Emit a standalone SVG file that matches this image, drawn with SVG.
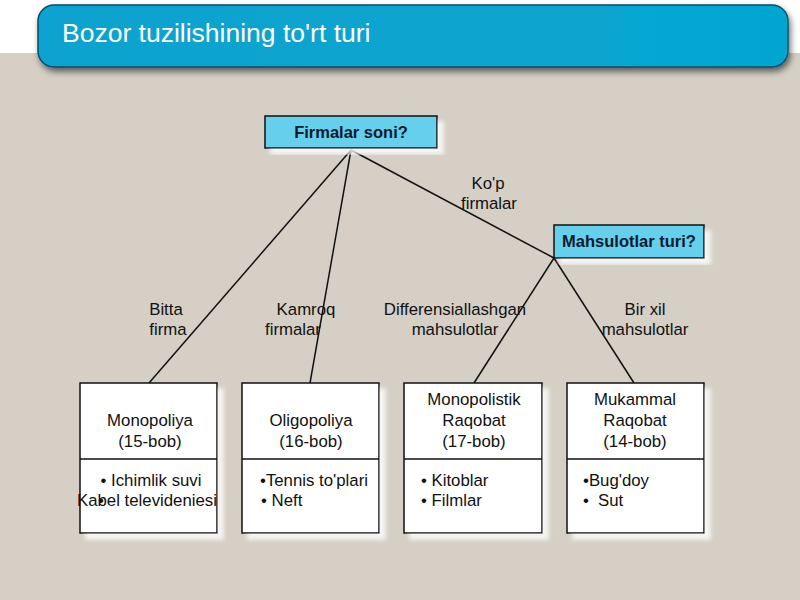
<svg xmlns="http://www.w3.org/2000/svg" width="800" height="600" viewBox="0 0 800 600">
<defs>
<linearGradient id="tg" x1="0" y1="0" x2="1" y2="0">
<stop offset="0" stop-color="#0aa2cf"/>
<stop offset="1" stop-color="#06a6d0"/>
</linearGradient>
<filter id="sh" x="-10%" y="-20%" width="120%" height="160%">
<feGaussianBlur in="SourceAlpha" stdDeviation="3"/>
<feOffset dx="2" dy="4" result="b"/>
<feFlood flood-color="#000" flood-opacity="0.55"/>
<feComposite in2="b" operator="in"/>
<feMerge><feMergeNode/><feMergeNode in="SourceGraphic"/></feMerge>
</filter>
<filter id="wsh" x="-10%" y="-10%" width="130%" height="130%">
<feGaussianBlur in="SourceAlpha" stdDeviation="2"/>
<feOffset dx="6" dy="6" result="b"/>
<feFlood flood-color="#ffffff" flood-opacity="0.8"/>
<feComposite in2="b" operator="in"/>
<feMerge><feMergeNode/><feMergeNode in="SourceGraphic"/></feMerge>
</filter>
</defs>
<style>
text{font-family:"Liberation Sans",Arial,sans-serif;}
.q{fill:#66cfeb;stroke:#111;stroke-width:1.5;}
.qt{font-size:16.5px;font-weight:bold;fill:#0b1a30;text-anchor:middle;}
.b{fill:#fff;stroke:#111;stroke-width:1.5;}
.t{font-size:16.8px;fill:#111;}
.c{text-anchor:middle;}
.ln{stroke:#111;stroke-width:1.5;fill:none;}
</style>
<rect x="0" y="0" width="800" height="600" fill="#d5cfc5"/>
<rect x="0" y="0" width="800" height="53" fill="#ffffff"/>
<g id="title">
<rect x="38" y="5" width="750" height="62" rx="16" fill="url(#tg)" stroke="#06506a" stroke-width="1.5" filter="url(#sh)"/>
<text x="62" y="42" font-size="26.5" fill="#ffffff">Bozor tuzilishining to'rt turi</text>
</g>
<g id="connectors">
<line class="ln" x1="351" y1="150" x2="149" y2="383"/>
<line class="ln" x1="351" y1="150" x2="310" y2="383"/>
<line class="ln" x1="351" y1="150" x2="554" y2="258"/>
<line class="ln" x1="554" y1="258" x2="474" y2="383"/>
<line class="ln" x1="554" y1="258" x2="634" y2="383"/>
</g>
<g id="labels">
<text class="t c" x="488" y="189">Ko'p</text>
<text class="t c" x="489" y="209">firmalar</text>
<text class="t c" x="166" y="315">Bitta</text>
<text class="t c" x="168" y="335">firma</text>
<text class="t c" x="306" y="315">Kamroq</text>
<text class="t c" x="293" y="335">firmalar</text>
<text class="t c" x="455" y="315">Differensiallashgan</text>
<text class="t c" x="455" y="335">mahsulotlar</text>
<text class="t c" x="645" y="315">Bir xil</text>
<text class="t c" x="645" y="335">mahsulotlar</text>
</g>
<g id="firmalar-soni">
<rect class="q" x="265" y="116" width="172" height="32" filter="url(#wsh)"/>
<text class="qt" x="351" y="138">Firmalar soni?</text>
</g>
<g id="mahsulotlar-turi">
<rect class="q" x="554" y="225" width="150" height="33" filter="url(#wsh)"/>
<text class="qt" x="629" y="247">Mahsulotlar turi?</text>
</g>
<g id="monopoliya">
<rect class="b" x="80" y="383" width="137" height="150" filter="url(#wsh)"/>
<line class="ln" x1="80" y1="459" x2="217" y2="459"/>
<text class="t c" x="150" y="426">Monopoliya</text>
<text class="t c" x="150" y="447">(15-bob)</text>
<text class="t c" x="151" y="486">• Ichimlik suvi</text>
<text class="t" x="77" y="506">Kabel televideniesi<tspan x="98">•</tspan></text>
</g>
<g id="oligopoliya">
<rect class="b" x="242" y="383" width="137" height="150" filter="url(#wsh)"/>
<line class="ln" x1="242" y1="459" x2="379" y2="459"/>
<text class="t c" x="311" y="426">Oligopoliya</text>
<text class="t c" x="311" y="447">(16-bob)</text>
<text class="t" x="260" y="486">•Tennis to'plari</text>
<text class="t" x="261" y="506">• Neft</text>
</g>
<g id="monopolistik">
<rect class="b" x="404" y="383" width="138" height="150" filter="url(#wsh)"/>
<line class="ln" x1="404" y1="459" x2="542" y2="459"/>
<text class="t c" x="474" y="405">Monopolistik</text>
<text class="t c" x="474" y="426">Raqobat</text>
<text class="t c" x="474" y="447">(17-bob)</text>
<text class="t" x="421" y="486">• Kitoblar</text>
<text class="t" x="421" y="506">• Filmlar</text>
</g>
<g id="mukammal">
<rect class="b" x="567" y="383" width="137" height="150" filter="url(#wsh)"/>
<line class="ln" x1="567" y1="459" x2="704" y2="459"/>
<text class="t c" x="635" y="405">Mukammal</text>
<text class="t c" x="635" y="426">Raqobat</text>
<text class="t c" x="635" y="447">(14-bob)</text>
<text class="t" x="583" y="486">•Bug'doy</text>
<text class="t" x="583" y="506">•<tspan x="598">Sut</tspan></text>
</g>
</svg>
